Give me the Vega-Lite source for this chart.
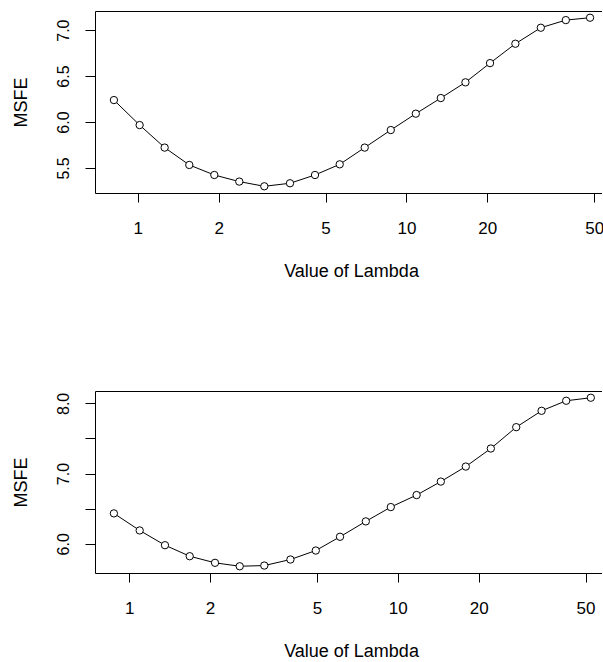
{
  "$schema": "https://vega.github.io/schema/vega-lite/v6.json",
  "background": "white",
  "padding": {"left": 12, "top": 11, "right": 0, "bottom": 0},
  "spacing": 198,
  "bounds": "flush",
  "config": {
    "view": {"stroke": null},
    "font": "Liberation Sans",
    "axis": {
      "grid": false,
      "domainColor": "#000",
      "domainWidth": 1,
      "tickColor": "#000",
      "tickWidth": 1,
      "labelColor": "#000",
      "titleColor": "#000",
      "labelFont": "Liberation Sans",
      "titleFont": "Liberation Sans",
      "titleFontWeight": "normal",
      "labelFlush": false,
      "labelOverlap": false
    }
  },
  "datasets": {
    "top": [
      {"lambda": 0.815, "msfe": 6.239},
      {"lambda": 1.016, "msfe": 5.967},
      {"lambda": 1.259, "msfe": 5.722},
      {"lambda": 1.555, "msfe": 5.533},
      {"lambda": 1.927, "msfe": 5.424},
      {"lambda": 2.387, "msfe": 5.352},
      {"lambda": 2.958, "msfe": 5.301},
      {"lambda": 3.687, "msfe": 5.334},
      {"lambda": 4.568, "msfe": 5.424},
      {"lambda": 5.646, "msfe": 5.540},
      {"lambda": 6.995, "msfe": 5.722},
      {"lambda": 8.748, "msfe": 5.913},
      {"lambda": 10.84, "msfe": 6.091},
      {"lambda": 13.43, "msfe": 6.261},
      {"lambda": 16.59, "msfe": 6.432},
      {"lambda": 20.48, "msfe": 6.641},
      {"lambda": 25.45, "msfe": 6.852},
      {"lambda": 31.65, "msfe": 7.026},
      {"lambda": 39.22, "msfe": 7.109},
      {"lambda": 48.27, "msfe": 7.135}
    ],
    "bottom": [
      {"lambda": 0.877, "msfe": 6.433},
      {"lambda": 1.094, "msfe": 6.190},
      {"lambda": 1.359, "msfe": 5.980},
      {"lambda": 1.680, "msfe": 5.823},
      {"lambda": 2.087, "msfe": 5.729},
      {"lambda": 2.579, "msfe": 5.680},
      {"lambda": 3.184, "msfe": 5.690},
      {"lambda": 3.983, "msfe": 5.776},
      {"lambda": 4.951, "msfe": 5.904},
      {"lambda": 6.093, "msfe": 6.100},
      {"lambda": 7.601, "msfe": 6.319},
      {"lambda": 9.417, "msfe": 6.523},
      {"lambda": 11.75, "msfe": 6.694},
      {"lambda": 14.46, "msfe": 6.886},
      {"lambda": 17.91, "msfe": 7.100},
      {"lambda": 22.20, "msfe": 7.357},
      {"lambda": 27.60, "msfe": 7.661},
      {"lambda": 34.30, "msfe": 7.894},
      {"lambda": 42.36, "msfe": 8.037},
      {"lambda": 52.31, "msfe": 8.080}
    ]
  },
  "vconcat": [
    {
      "width": 506.5,
      "height": 182,
      "data": {"name": "top"},
      "resolve": {"axis": {"x": "independent"}},
      "encoding": {
        "y": {
          "field": "msfe", "type": "quantitative",
          "scale": {"domain": [5.228, 7.208], "nice": false, "zero": false},
          "axis": {
            "values": [5.5, 6, 6.5, 7], "format": ".1f",
            "tickSize": 10, "labelFontSize": 16, "labelPadding": 16.5,
            "labelAngle": -90, "labelAlign": "center", "labelBaseline": "alphabetic",
            "title": "MSFE", "titleFontSize": 18,
            "titleAngle": -90, "titleX": -74, "titleY": 91, "titleAlign": "center", "titleBaseline": "middle"
          }
        }
      },
      "layer": [
        {
          "mark": {"type": "line", "color": "#000", "strokeWidth": 1},
          "encoding": {
            "x": {
              "field": "lambda", "type": "quantitative",
              "scale": {"type": "log", "domain": [0.693, 53.25], "nice": false, "zero": false},
              "axis": {
                "values": [1, 2, 5, 10, 20, 50], "format": "d",
                "tickSize": 9, "labelFontSize": 17, "labelPadding": 31,
                "labelBaseline": "alphabetic", "labelAlign": "center",
                "title": "Value of Lambda", "titleFontSize": 18,
                "titleX": 256, "titleY": 83.4, "titleAlign": "center", "titleBaseline": "alphabetic", "titleAngle": 0
              }
            }
          }
        },
        {
          "mark": {"type": "point", "shape": "circle", "filled": true, "fill": "white", "stroke": "#000", "strokeWidth": 1, "size": 54, "opacity": 1},
          "encoding": {
            "x": {"field": "lambda", "type": "quantitative", "axis": null}
          }
        },
        {
          "mark": {"type": "point", "opacity": 0},
          "encoding": {
            "x": {"field": "lambda", "type": "quantitative",
              "axis": {"orient": "top", "ticks": false, "labels": false, "title": null, "domain": true}}
          }
        }
      ]
    },
    {
      "width": 506.5,
      "height": 182,
      "data": {"name": "bottom"},
      "resolve": {"axis": {"x": "independent"}},
      "encoding": {
        "y": {
          "field": "msfe", "type": "quantitative",
          "scale": {"domain": [5.584, 8.176], "nice": false, "zero": false},
          "axis": {
            "values": [6, 6.5, 7, 7.5, 8],
            "labelExpr": "datum.value % 1 === 0 ? format(datum.value, '.1f') : ''",
            "tickSize": 10, "labelFontSize": 16, "labelPadding": 16.5,
            "labelAngle": -90, "labelAlign": "center", "labelBaseline": "alphabetic",
            "title": "MSFE", "titleFontSize": 18,
            "titleAngle": -90, "titleX": -74, "titleY": 91, "titleAlign": "center", "titleBaseline": "middle"
          }
        }
      },
      "layer": [
        {
          "mark": {"type": "line", "color": "#000", "strokeWidth": 1},
          "encoding": {
            "x": {
              "field": "lambda", "type": "quantitative",
              "scale": {"type": "log", "domain": [0.7459, 57.33], "nice": false, "zero": false},
              "axis": {
                "values": [1, 2, 5, 10, 20, 50], "format": "d",
                "tickSize": 9, "labelFontSize": 17, "labelPadding": 31,
                "labelBaseline": "alphabetic", "labelAlign": "center",
                "title": "Value of Lambda", "titleFontSize": 18,
                "titleX": 256, "titleY": 83.4, "titleAlign": "center", "titleBaseline": "alphabetic", "titleAngle": 0
              }
            }
          }
        },
        {
          "mark": {"type": "point", "shape": "circle", "filled": true, "fill": "white", "stroke": "#000", "strokeWidth": 1, "size": 54, "opacity": 1},
          "encoding": {
            "x": {"field": "lambda", "type": "quantitative", "axis": null}
          }
        },
        {
          "mark": {"type": "point", "opacity": 0},
          "encoding": {
            "x": {"field": "lambda", "type": "quantitative",
              "axis": {"orient": "top", "ticks": false, "labels": false, "title": null, "domain": true}}
          }
        }
      ]
    }
  ]
}
